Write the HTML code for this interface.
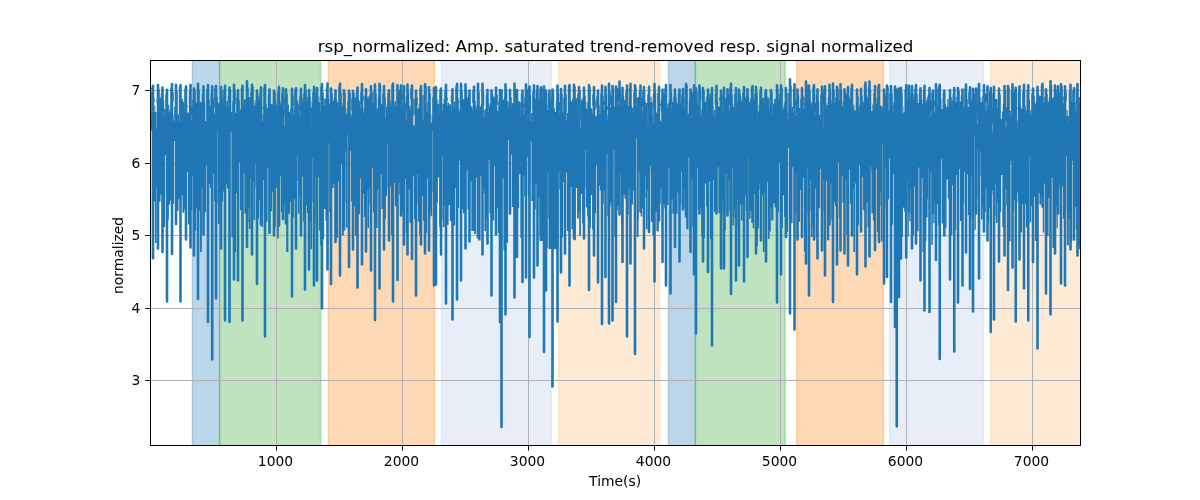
<!DOCTYPE html>
<html lang="en">
<head>
<meta charset="utf-8">
<title>rsp_normalized</title>
<style>
html,body{margin:0;padding:0;background:#fff;}
body{width:1200px;height:500px;overflow:hidden;}
svg{display:block;will-change:transform;}
text{font-family:"DejaVu Sans","Liberation Sans",sans-serif;fill:#000;}
</style>
</head>
<body>
<svg width="1200" height="500" viewBox="0 0 1200 500">
<rect x="0" y="0" width="1200" height="500" fill="#ffffff"/>
<defs><clipPath id="ax"><rect x="150.5" y="60.5" width="930" height="385"/></clipPath></defs>
<g clip-path="url(#ax)">
<rect x="192.4" y="50" width="27.2" height="410" fill="#1f77b4" fill-opacity="0.3" stroke="#1f77b4" stroke-opacity="0.3" stroke-width="1.39"/>
<rect x="219.6" y="50" width="101" height="410" fill="#2ca02c" fill-opacity="0.3" stroke="#2ca02c" stroke-opacity="0.3" stroke-width="1.39"/>
<rect x="328.4" y="50" width="106.1" height="410" fill="#ff7f0e" fill-opacity="0.3" stroke="#ff7f0e" stroke-opacity="0.3" stroke-width="1.39"/>
<rect x="441.5" y="50" width="109.9" height="410" fill="#aec7e8" fill-opacity="0.3" stroke="#aec7e8" stroke-opacity="0.3" stroke-width="1.39"/>
<rect x="558.6" y="50" width="100.8" height="410" fill="#ffbb78" fill-opacity="0.3" stroke="#ffbb78" stroke-opacity="0.3" stroke-width="1.39"/>
<rect x="668.5" y="50" width="26.9" height="410" fill="#1f77b4" fill-opacity="0.3" stroke="#1f77b4" stroke-opacity="0.3" stroke-width="1.39"/>
<rect x="695.4" y="50" width="89.8" height="410" fill="#2ca02c" fill-opacity="0.3" stroke="#2ca02c" stroke-opacity="0.3" stroke-width="1.39"/>
<rect x="796.6" y="50" width="86.9" height="410" fill="#ff7f0e" fill-opacity="0.3" stroke="#ff7f0e" stroke-opacity="0.3" stroke-width="1.39"/>
<rect x="889.6" y="50" width="93.8" height="410" fill="#aec7e8" fill-opacity="0.3" stroke="#aec7e8" stroke-opacity="0.3" stroke-width="1.39"/>
<rect x="990.6" y="50" width="91.4" height="410" fill="#ffbb78" fill-opacity="0.3" stroke="#ffbb78" stroke-opacity="0.3" stroke-width="1.39"/>
</g>
<g fill="#b0b0b0">
<rect x="276" y="61" width="1" height="384"/>
<rect x="402" y="61" width="1" height="384"/>
<rect x="528" y="61" width="1" height="384"/>
<rect x="654" y="61" width="1" height="384"/>
<rect x="780" y="61" width="1" height="384"/>
<rect x="906" y="61" width="1" height="384"/>
<rect x="1032" y="61" width="1" height="384"/>
<rect x="151" y="90" width="929" height="1"/>
<rect x="151" y="163" width="929" height="1"/>
<rect x="151" y="235" width="929" height="1"/>
<rect x="151" y="308" width="929" height="1"/>
<rect x="151" y="380" width="929" height="1"/>
</g>
<g clip-path="url(#ax)" fill="none" stroke="#1f77b4" stroke-linecap="butt">
<path d="M149.92 112.57h1.66v7.9h-1.66zM148.7 119.47h4.1v11.25h-4.1zM148.7 130.21h2.4v82.19h-2.4zM154.42 105.46h0.96v7.6h-0.96zM153.2 112.06h3.4v89.31h-3.4zM154.9 200.87h1.7v42.12h-1.7zM155.62 120.81h0.96v8.85h-0.96zM154.4 128.65h3.4v58.69h-3.4zM154.4 186.85h1.7v4.55h-1.7zM159.42 97.58h1.66v8.17h-1.66zM158.2 104.74h4.1v89.72h-4.1zM158.2 193.96h2.4v7.73h-2.4zM163.92 108.99h1.66v7.96h-1.66zM162.7 115.95h4.1v39.23h-4.1zM162.7 154.68h2.4v72.62h-2.4zM168.42 104.56h0.96v8.38h-0.96zM167.2 111.95h3.4v70.25h-3.4zM167.2 181.7h1.7v37.95h-1.7zM169.62 109.86h0.96v4.68h-0.96zM168.4 113.55h3.4v87.16h-3.4zM168.4 200.21h1.7v4.5h-1.7zM173.42 115.22h1.16v6.21h-1.16zM172.2 120.43h3.6v20.46h-3.6zM172.2 140.39h1.9v63.57h-1.9zM177.42 114.2h1.66v8.59h-1.66zM176.2 121.79h4.1v77.42h-4.1zM176.2 198.71h2.4v12.16h-2.4zM181.92 98.75h1.21v3.91h-1.21zM180.7 101.66h3.65v93.65h-3.65zM182.4 194.81h1.95v17.92h-1.95zM183.37 105.06h1.21v7.04h-1.21zM182.15 111.1h3.65v69.59h-3.65zM183.85 180.19h1.95v29.38h-1.95zM187.42 112.52h1.66v1.12h-1.66zM186.2 112.65h4.1v59.46h-4.1zM187.9 171.6h2.4v52.89h-2.4zM191.92 114.55h0.66v7.17h-0.66zM190.7 120.72h3.1v55.29h-3.1zM190.7 175.51h1.55v34.41h-1.55zM195.42 102.11h1.16v2.26h-1.16zM194.2 103.37h3.6v104.9h-3.6zM194.2 207.77h1.9v22.71h-1.9zM199.42 101.48h1.21v2.18h-1.21zM198.2 102.66h3.65v108.18h-3.65zM199.9 210.34h1.95v41.66h-1.95zM200.87 102.59h1.21v5.43h-1.21zM199.65 107.02h3.65v80.07h-3.65zM199.65 186.59h1.95v4.5h-1.95zM204.92 120.93h1.66v5.69h-1.66zM203.7 125.62h4.1v39.82h-4.1zM203.7 164.94h2.4v47.2h-2.4zM209.42 106.19h1.36v1.5h-1.36zM208.2 106.69h3.8v77.03h-3.8zM209.9 183.21h2.1v4.79h-2.1zM213.62 112.82h0.96v2.51h-0.96zM212.4 114.33h3.4v59.71h-3.4zM214.1 173.54h1.7v27.67h-1.7zM217.42 102.89h0.96v4.22h-0.96zM216.2 106.11h3.4v25.45h-3.4zM217.9 131.06h1.7v92.87h-1.7zM218.62 103.11h0.96v2.25h-0.96zM217.4 104.36h3.4v88.71h-3.4zM217.4 192.57h1.7v10.7h-1.7zM222.42 97.79h1.16v7.97h-1.16zM221.2 104.75h3.6v86.82h-3.6zM221.2 191.08h1.9v10.37h-1.9zM226.42 100.97h1.66v7.14h-1.66zM225.2 107.11h4.1v77.45h-4.1zM226.9 184.06h2.4v4.5h-2.4zM230.92 112.03h1.66v8.96h-1.66zM229.7 119.99h4.1v11.23h-4.1zM231.4 130.72h2.4v106.57h-2.4zM235.42 112.54h1.16v1.51h-1.16zM234.2 113.06h3.6v80.05h-3.6zM234.2 192.61h1.9v59.39h-1.9zM239.42 109.42h1.66v3.55h-1.66zM238.2 111.97h4.1v50.26h-4.1zM239.9 161.73h2.4v48.55h-2.4zM243.92 99.47h1.66v6.77h-1.66zM242.7 105.24h4.1v67.85h-4.1zM244.4 172.59h2.4v40.85h-2.4zM248.42 97.13h0.96v1.22h-0.96zM247.2 97.35h3.4v110.85h-3.4zM248.9 207.7h1.7v21.26h-1.7zM249.62 97.06h0.96v6.42h-0.96zM248.4 102.47h3.4v76.57h-3.4zM248.4 178.54h1.7v43.56h-1.7zM253.42 104.94h0.96v4.12h-0.96zM252.2 108.06h3.4v74.56h-3.4zM253.9 182.12h1.7v5.88h-1.7zM254.62 100.53h0.96v6.74h-0.96zM253.4 106.27h3.4v56.2h-3.4zM253.4 161.97h1.7v57.98h-1.7zM258.42 97.48h1.16v3.98h-1.16zM257.2 100.46h3.6v99.74h-3.6zM257.2 199.71h1.9v19.15h-1.9zM262.42 113.59h1.16v8.78h-1.16zM261.2 121.37h3.6v58.79h-3.6zM261.2 179.66h1.9v47.21h-1.9zM266.42 107.94h1.66v2.77h-1.66zM265.2 109.71h4.1v57.96h-4.1zM265.2 167.17h2.4v54.64h-2.4zM270.92 104.34h1.66v1.2h-1.66zM269.7 104.54h4.1v87.29h-4.1zM269.7 191.34h2.4v19.83h-2.4zM275.42 100.95h0.96v4.65h-0.96zM274.2 104.6h3.4v83.07h-3.4zM274.2 187.17h1.7v39.37h-1.7zM276.62 107.99h0.96v7.68h-0.96zM275.4 114.67h3.4v55.93h-3.4zM277.1 170.1h1.7v68.04h-1.7zM280.42 104.21h1.16v2.91h-1.16zM279.2 106.12h3.6v70.07h-3.6zM280.9 175.69h1.9v36.61h-1.9zM284.42 125.9h0.16v1.13h-0.16zM283.2 126.03h2.6v76.9h-2.6zM283.2 202.43h1.3v7.33h-1.3zM287.42 104.42h1.46v8.55h-1.46zM286.2 111.97h3.9v66.49h-3.9zM286.2 177.96h2.2v74.04h-2.2zM289.12 113.33h1.46v2.44h-1.46zM287.9 114.77h3.9v86.44h-3.9zM287.9 200.71h2.2v12.92h-2.2zM293.42 107.41h1.16v8.11h-1.16zM292.2 114.53h3.6v84.82h-3.6zM292.2 198.85h1.9v18.61h-1.9zM297.42 99.91h0.96v5.66h-0.96zM296.2 104.58h3.4v51.07h-3.4zM297.9 155.15h1.7v58.67h-1.7zM298.62 111.98h0.96v5.15h-0.96zM297.4 116.13h3.4v65.21h-3.4zM299.1 180.84h1.7v13.71h-1.7zM302.42 97.72h1.16v6.32h-1.16zM301.2 103.04h3.6v73.63h-3.6zM302.9 176.17h1.9v45.48h-1.9zM306.42 96.7h1.16v5.6h-1.16zM305.2 101.3h3.6v104.03h-3.6zM306.9 204.83h1.9v8.17h-1.9zM310.42 120.35h0.96v8.3h-0.96zM309.2 127.65h3.4v73.97h-3.4zM309.2 201.12h1.7v20.82h-1.7zM311.62 101.54h0.96v6.85h-0.96zM310.4 107.39h3.4v50.77h-3.4zM310.4 157.66h1.7v91.57h-1.7zM315.42 96.39h0.16v1.82h-0.16zM314.2 97.21h2.6v79.56h-2.6zM314.2 176.27h1.3v46.29h-1.3zM318.42 96.37h0.96v6.91h-0.96zM317.2 102.28h3.4v75.01h-3.4zM318.9 176.79h1.7v53.6h-1.7zM319.62 105.94h0.96v6.74h-0.96zM318.4 111.67h3.4v35.6h-3.4zM320.1 146.78h1.7v98.39h-1.7zM323.42 98.09h1.21v8.08h-1.21zM322.2 105.17h3.65v85.29h-3.65zM322.2 189.96h1.95v49.28h-1.95zM324.87 98.8h1.21v7.61h-1.21zM323.65 105.41h3.65v103.66h-3.65zM325.35 208.57h1.95v12.24h-1.95zM328.92 107.34h0.66v1.29h-0.66zM327.7 107.63h3.1v35.08h-3.1zM329.25 142.21h1.55v69.8h-1.55zM332.42 100.57h1.66v7.44h-1.66zM331.2 107h4.1v77h-4.1zM331.2 183.5h2.4v4.5h-2.4zM336.92 102.17h1.66v6.44h-1.66zM335.7 107.61h4.1v74h-4.1zM335.7 181.11h2.4v56.54h-2.4zM341.42 102.92h1.16v5.04h-1.16zM340.2 106.96h3.6v56.98h-3.6zM341.9 163.44h1.9v72.05h-1.9zM345.42 108.03h0.96v8.07h-0.96zM344.2 115.11h3.4v37.35h-3.4zM345.9 151.96h1.7v75.78h-1.7zM346.62 113.44h0.96v1.29h-0.96zM345.4 113.73h3.4v16.75h-3.4zM345.4 129.98h1.7v72.2h-1.7zM350.42 114.07h1.16v3.44h-1.16zM349.2 116.51h3.6v34.29h-3.6zM350.9 150.3h1.9v51.09h-1.9zM354.42 97.61h1.66v5.09h-1.66zM353.2 101.7h4.1v104.91h-4.1zM354.9 206.1h2.4v29.59h-2.4zM358.92 101.21h1.66v6.92h-1.66zM357.7 107.13h4.1v71.37h-4.1zM357.7 178h2.4v36.3h-2.4zM363.42 108.36h1.16v5.38h-1.16zM362.2 112.74h3.6v81.06h-3.6zM363.9 193.3h1.9v23.59h-1.9zM367.42 96.59h0.96v2.51h-0.96zM366.2 98.1h3.4v92.56h-3.4zM367.9 190.16h1.7v14.68h-1.7zM368.62 96.23h0.96v5.45h-0.96zM367.4 100.68h3.4v87.42h-3.4zM367.4 187.6h1.7v40.56h-1.7zM372.42 101.61h1.16v2.27h-1.16zM371.2 102.88h3.6v65.26h-3.6zM372.9 167.64h1.9v44.91h-1.9zM376.42 108.5h1.66v7.1h-1.66zM375.2 114.6h4.1v74.88h-4.1zM375.2 188.98h2.4v39.1h-2.4zM380.92 103.92h1.66v2.12h-1.66zM379.7 105.04h4.1v69.48h-4.1zM381.4 174.02h2.4v34.88h-2.4zM385.42 111.6h0.96v7.08h-0.96zM384.2 117.68h3.4v69.66h-3.4zM384.2 186.84h1.7v32.42h-1.7zM386.62 103.85h0.96v4.28h-0.96zM385.4 107.13h3.4v36.78h-3.4zM385.4 143.41h1.7v52.91h-1.7zM390.42 103.94h1.16v4.04h-1.16zM389.2 106.98h3.6v79.28h-3.6zM390.9 185.76h1.9v49.54h-1.9zM394.42 101.57h1.66v5.44h-1.66zM393.2 106.01h4.1v77.06h-4.1zM394.9 182.57h2.4v23.72h-2.4zM398.92 103.23h0.66v4.49h-0.66zM397.7 106.72h3.1v76h-3.1zM399.25 182.22h1.55v12.47h-1.55zM402.42 102.15h0.16v7.71h-0.16zM401.2 108.86h2.6v101.2h-2.6zM402.5 209.56h1.3v5.23h-1.3zM405.42 112.93h0.66v8.17h-0.66zM404.2 120.1h3.1v58.99h-3.1zM405.75 178.59h1.55v53.81h-1.55zM408.92 106.23h1.66v5.14h-1.66zM407.7 110.37h4.1v78.94h-4.1zM409.4 188.81h2.4v34.04h-2.4zM413.42 125.14h1.16v1.55h-1.16zM412.2 125.69h3.6v50.09h-3.6zM413.9 175.28h1.9v43.65h-1.9zM417.42 108.32h0.96v2.23h-0.96zM416.2 109.56h3.4v64.29h-3.4zM417.9 173.35h1.7v48.28h-1.7zM418.62 104.36h0.96v5.24h-0.96zM417.4 108.6h3.4v94.74h-3.4zM419.1 202.85h1.7v31.91h-1.7zM422.42 119.66h1.16v2.4h-1.16zM421.2 121.06h3.6v74.76h-3.6zM422.9 195.33h1.9v25.34h-1.9zM426.42 111.59h1.16v2.25h-1.16zM425.2 112.84h3.6v65.78h-3.6zM425.2 178.13h1.9v54.84h-1.9zM430.42 123.47h0.96v1.85h-0.96zM429.2 124.33h3.4v67.46h-3.4zM429.2 191.28h1.7v19.58h-1.7zM431.62 115.04h0.96v8.34h-0.96zM430.4 122.38h3.4v8.16h-3.4zM430.4 130.04h1.7v86.3h-1.7zM437.42 99.74h0.96v5.43h-0.96zM436.2 104.16h3.4v73.34h-3.4zM436.2 177h1.7v25.54h-1.7zM438.62 106.91h0.96v7.08h-0.96zM437.4 112.99h3.4v22.98h-3.4zM439.1 135.47h1.7v91.86h-1.7zM442.42 111.64h0.96v7.45h-0.96zM441.2 118.09h3.4v38.88h-3.4zM442.9 156.47h1.7v70.59h-1.7zM443.62 98.73h0.96v6.03h-0.96zM442.4 103.76h3.4v101.62h-3.4zM442.4 204.89h1.7v15.49h-1.7zM447.42 102.63h1.71v4.09h-1.71zM446.2 105.71h4.15v61.86h-4.15zM446.2 167.07h2.45v57.76h-2.45zM449.37 104.35h1.71v8.45h-1.71zM448.15 111.8h4.15v93.37h-4.15zM449.85 204.67h2.45v16.35h-2.45zM453.92 101.77h1.66v8.68h-1.66zM452.7 109.45h4.1v78.84h-4.1zM452.7 187.79h2.4v37.71h-2.4zM458.42 108.87h1.16v4.19h-1.16zM457.2 112.06h3.6v48.33h-3.6zM457.2 159.89h1.9v47.77h-1.9zM462.42 99.3h1.66v2.49h-1.66zM461.2 100.79h4.1v108.34h-4.1zM462.9 208.63h2.4v4.5h-2.4zM466.92 98.18h1.16v1.52h-1.16zM465.7 98.71h3.6v72.09h-3.6zM467.4 170.29h1.9v39.24h-1.9zM470.92 106.52h1.66v4.74h-1.66zM469.7 110.26h4.1v70.93h-4.1zM471.4 180.69h2.4v50.35h-2.4zM475.42 108.62h1.16v1.74h-1.16zM474.2 109.36h3.6v68.31h-3.6zM474.2 177.17h1.9v56.91h-1.9zM479.42 106.54h1.66v7.36h-1.66zM478.2 112.9h4.1v63.38h-4.1zM478.2 175.79h2.4v64.69h-2.4zM483.92 109.73h0.96v8.61h-0.96zM482.7 117.33h3.4v71.39h-3.4zM484.4 188.23h1.7v42.67h-1.7zM485.12 108.83h0.96v8.98h-0.96zM483.9 116.81h3.4v76.2h-3.4zM485.6 192.51h1.7v25.84h-1.7zM488.92 106.16h1.16v7.01h-1.16zM487.7 112.16h3.6v47.65h-3.6zM489.4 159.32h1.9v53.93h-1.9zM492.92 96.55h1.66v2.16h-1.66zM491.7 97.71h4.1v68h-4.1zM491.7 165.21h2.4v55.3h-2.4zM497.42 110.75h1.16v1.54h-1.16zM496.2 111.29h3.6v96.66h-3.6zM497.9 207.45h1.9v25.49h-1.9zM502.92 99.66h1.16v1.7h-1.16zM501.7 100.37h3.6v78.2h-3.6zM503.4 178.06h1.9v72.2h-1.9zM506.92 101.36h1.66v8.06h-1.66zM505.7 108.43h4.1v31.25h-4.1zM505.7 139.18h2.4v103.6h-2.4zM511.42 102.97h1.66v6.53h-1.66zM510.2 108.49h4.1v46.14h-4.1zM511.9 154.13h2.4v52.84h-2.4zM518.42 100.72h1.21v2.45h-1.21zM517.2 102.17h3.65v68.24h-3.65zM517.2 169.92h1.95v38.45h-1.95zM519.87 115.6h1.21v2.3h-1.21zM518.65 116.9h3.65v57.41h-3.65zM520.35 173.81h1.95v64.11h-1.95zM523.92 110.03h0.66v5.52h-0.66zM522.7 114.54h3.1v61.16h-3.1zM524.25 175.2h1.55v21.24h-1.55zM527.42 113.59h0.66v5.6h-0.66zM526.2 118.19h3.1v38.54h-3.1zM527.75 156.23h1.55v38.8h-1.55zM530.92 113.12h1.66v8.79h-1.66zM529.7 120.91h4.1v20.24h-4.1zM531.4 140.65h2.4v60.44h-2.4zM535.42 110.24h0.66v6.56h-0.66zM534.2 115.8h3.1v67.7h-3.1zM534.2 183h1.55v26.2h-1.55zM538.92 101.34h0.66v8.44h-0.66zM537.7 108.78h3.1v88.72h-3.1zM539.25 197.01h1.55v38.86h-1.55zM542.42 105.66h0.16v2.65h-0.16zM541.2 107.31h2.6v89.32h-2.6zM541.2 196.14h1.3v19.65h-1.3zM547.42 105.3h0.66v5.47h-0.66zM546.2 109.77h3.1v63.43h-3.1zM546.2 172.7h1.55v75.06h-1.55zM550.92 106.33h0.16v1.48h-0.16zM549.7 106.81h2.6v75.01h-2.6zM549.7 181.32h1.3v31.41h-1.3zM553.92 108.09h0.96v4.86h-0.96zM552.7 111.96h3.4v42.25h-3.4zM552.7 153.7h1.7v60.54h-1.7zM555.12 113.78h0.96v3.39h-0.96zM553.9 116.18h3.4v33.54h-3.4zM555.6 149.21h1.7v55.84h-1.7zM558.92 107.96h0.66v6.42h-0.66zM557.7 113.37h3.1v58.9h-3.1zM559.25 171.78h1.55v17.44h-1.55zM562.42 111.79h1.16v3.31h-1.16zM561.2 114.11h3.6v67.84h-3.6zM561.2 181.44h1.9v55.84h-1.9zM566.42 113.02h1.66v8.7h-1.66zM565.2 120.72h4.1v51.86h-4.1zM566.9 172.08h2.4v58.82h-2.4zM570.92 101.5h1.66v1.36h-1.66zM569.7 101.87h4.1v85.15h-4.1zM571.4 186.52h2.4v42.74h-2.4zM575.42 97.6h0.96v1.87h-0.96zM574.2 98.47h3.4v89.51h-3.4zM574.2 187.48h1.7v52.69h-1.7zM576.62 110.89h0.96v3.87h-0.96zM575.4 113.77h3.4v55.51h-3.4zM577.1 168.78h1.7v49.83h-1.7zM580.42 126.21h0.96v2.16h-0.96zM579.2 127.37h3.4v54.92h-3.4zM579.2 181.79h1.7v54.06h-1.7zM581.62 97.94h0.96v3.48h-0.96zM580.4 100.42h3.4v93.57h-3.4zM582.1 193.49h1.7v29.89h-1.7zM585.42 102.08h0.96v7.65h-0.96zM584.2 108.73h3.4v41.11h-3.4zM585.9 149.34h1.7v58h-1.7zM586.62 113.2h0.96v4.96h-0.96zM585.4 117.15h3.4v71.32h-3.4zM587.1 187.98h1.7v28.47h-1.7zM590.42 107.45h0.96v2.11h-0.96zM589.2 108.56h3.4v86.37h-3.4zM589.2 194.43h1.7v33.34h-1.7zM591.62 112.16h0.96v2.75h-0.96zM590.4 113.91h3.4v37.47h-3.4zM592.1 150.88h1.7v78.51h-1.7zM595.42 115.83h1.16v1.5h-1.16zM594.2 116.33h3.6v49.08h-3.6zM594.2 164.91h1.9v48.39h-1.9zM599.42 113.18h1.16v3.37h-1.16zM598.2 115.54h3.6v70.29h-3.6zM599.9 185.33h1.9v5.07h-1.9zM603.42 106.78h0.66v4.43h-0.66zM602.2 110.21h3.1v79.92h-3.1zM602.2 189.63h1.55v13.93h-1.55zM606.92 114.51h0.66v5.96h-0.66zM605.7 119.47h3.1v34.2h-3.1zM607.25 153.18h1.55v63.03h-1.55zM610.42 106.74h0.66v2.09h-0.66zM609.2 107.83h3.1v94.3h-3.1zM609.2 201.63h1.55v4.5h-1.55zM613.92 112.11h0.66v6.92h-0.66zM612.7 118.03h3.1v32.24h-3.1zM614.25 149.77h1.55v87.35h-1.55zM617.42 102.84h0.66v2.82h-0.66zM616.2 104.66h3.1v101.46h-3.1zM616.2 205.61h1.55v4.5h-1.55zM620.92 100.2h0.16v6.2h-0.16zM619.7 105.4h2.6v68.41h-2.6zM621 173.31h1.3v51.89h-1.3zM623.92 100.31h1.66v6.88h-1.66zM622.7 106.2h4.1v88.4h-4.1zM624.4 194.1h2.4v4.5h-2.4zM628.42 108.91h0.66v2.07h-0.66zM627.2 109.98h3.1v78.66h-3.1zM627.2 188.15h1.55v26.92h-1.55zM631.92 107.91h1.66v6.49h-1.66zM630.7 113.39h4.1v77.19h-4.1zM630.7 190.08h2.4v14.34h-2.4zM636.42 106.7h1.21v2.09h-1.21zM635.2 107.79h3.65v30.5h-3.65zM636.9 137.79h1.95v81.63h-1.95zM637.87 96.79h1.21v1.96h-1.21zM636.65 97.76h3.65v73.62h-3.65zM636.65 170.87h1.95v66.13h-1.95zM641.92 107.8h0.66v5.5h-0.66zM640.7 112.31h3.1v95.82h-3.1zM640.7 207.62h1.55v8.8h-1.55zM645.42 102.97h0.96v1.09h-0.96zM644.2 103.07h3.4v73.95h-3.4zM645.9 176.51h1.7v52.65h-1.7zM646.62 124.06h0.96v1.8h-0.96zM645.4 124.85h3.4v65.94h-3.4zM645.4 190.3h1.7v7.62h-1.7zM650.42 96.65h1.21v6.55h-1.21zM649.2 102.2h3.65v63.8h-3.65zM650.9 165.5h1.95v56.17h-1.95zM651.87 116.66h1.21v7.41h-1.21zM650.65 123.06h3.65v50.65h-3.65zM652.35 173.21h1.95v61.81h-1.95zM655.92 112.6h1.66v3h-1.66zM654.7 114.6h4.1v97.27h-4.1zM656.4 211.37h2.4v19.93h-2.4zM660.42 120.14h0.66v2.21h-0.66zM659.2 121.34h3.1v67.24h-3.1zM659.2 188.08h1.55v15.79h-1.55zM663.92 97.42h0.66v7.74h-0.66zM662.7 104.16h3.1v100.36h-3.1zM664.25 204.02h1.55v4.5h-1.55zM667.42 103.47h1.66v5.89h-1.66zM666.2 108.36h4.1v60.2h-4.1zM666.2 168.07h2.4v36.91h-2.4zM671.92 101.91h1.66v7.55h-1.66zM670.7 108.47h4.1v90.71h-4.1zM672.4 198.68h2.4v14.99h-2.4zM676.42 103.37h1.66v1.05h-1.66zM675.2 103.42h4.1v88.8h-4.1zM675.2 191.72h2.4v21.99h-2.4zM680.92 100.73h0.66v6.82h-0.66zM679.7 106.54h3.1v65.21h-3.1zM679.7 171.25h1.55v33.32h-1.55zM684.42 105.5h0.16v5.55h-0.16zM683.2 110.05h2.6v79.77h-2.6zM683.2 189.32h1.3v18.32h-1.3zM687.42 113.39h1.66v4.41h-1.66zM686.2 116.8h4.1v40.92h-4.1zM686.2 157.22h2.4v72.04h-2.4zM691.92 112.58h0.66v6.45h-0.66zM690.7 118.03h3.1v61.25h-3.1zM692.25 178.79h1.55v47.85h-1.55zM697.42 105.67h0.66v4.25h-0.66zM696.2 108.92h3.1v58.92h-3.1zM697.75 167.34h1.55v42.46h-1.55zM700.92 112.79h0.66v5.03h-0.66zM699.7 116.82h3.1v90.21h-3.1zM701.25 206.53h1.55v29.79h-1.55zM704.42 98.87h0.96v4.24h-0.96zM703.2 102.11h3.4v81.51h-3.4zM703.2 183.12h1.7v55.02h-1.7zM705.62 107.15h0.96v6.76h-0.96zM704.4 112.91h3.4v63.94h-3.4zM706.1 176.35h1.7v30.25h-1.7zM709.42 97.4h1.16v3.43h-1.16zM708.2 99.83h3.6v81.78h-3.6zM709.9 181.11h1.9v57.6h-1.9zM713.42 109.7h1.66v7.71h-1.66zM712.2 116.41h4.1v63.59h-4.1zM713.9 179.51h2.4v32.44h-2.4zM717.92 106.38h1.66v1.16h-1.66zM716.7 106.54h4.1v60.7h-4.1zM718.4 166.74h2.4v46.53h-2.4zM722.42 112.42h0.16v2.57h-0.16zM721.2 113.99h2.6v85.5h-2.6zM721.2 198.99h1.3v14.14h-1.3zM725.42 97.51h0.66v2.09h-0.66zM724.2 98.6h3.1v75.24h-3.1zM724.2 173.34h1.55v57.38h-1.55zM728.92 108.16h0.66v2.7h-0.66zM727.7 109.86h3.1v70.5h-3.1zM729.25 179.86h1.55v31.48h-1.55zM732.42 103.7h0.96v4.31h-0.96zM731.2 107.02h3.4v60.12h-3.4zM732.9 166.64h1.7v51.66h-1.7zM733.62 110.74h0.96v4.2h-0.96zM732.4 113.94h3.4v95.25h-3.4zM732.4 208.69h1.7v16.7h-1.7zM737.42 113.58h0.16v5.91h-0.16zM736.2 118.49h2.6v80.54h-2.6zM736.2 198.53h1.3v27.54h-1.3zM740.42 96.35h0.96v5.24h-0.96zM739.2 100.59h3.4v103.92h-3.4zM740.9 204.01h1.7v16.59h-1.7zM741.62 104.04h0.96v6.26h-0.96zM740.4 109.3h3.4v83.97h-3.4zM742.1 192.77h1.7v12.01h-1.7zM745.42 111.46h0.66v1.25h-0.66zM744.2 111.71h3.1v83.71h-3.1zM745.75 194.92h1.55v16h-1.55zM748.92 106.63h0.96v3.02h-0.96zM747.7 108.65h3.4v49.67h-3.4zM749.4 157.82h1.7v51.38h-1.7zM750.12 98.86h0.96v4.21h-0.96zM748.9 102.07h3.4v108.95h-3.4zM748.9 210.52h1.7v8.26h-1.7zM753.92 98.32h0.66v3.07h-0.66zM752.7 100.4h3.1v93.09h-3.1zM752.7 192.99h1.55v35.28h-1.55zM757.42 112.55h0.96v7.23h-0.96zM756.2 118.78h3.4v71.06h-3.4zM756.2 189.34h1.7v56.63h-1.7zM758.62 104.39h0.96v8.21h-0.96zM757.4 111.6h3.4v71.69h-3.4zM757.4 182.78h1.7v45.81h-1.7zM762.42 98.05h0.96v1.52h-0.96zM761.2 98.57h3.4v96.76h-3.4zM762.9 194.84h1.7v57.16h-1.7zM763.62 97.14h0.96v8.56h-0.96zM762.4 104.7h3.4v83.9h-3.4zM764.1 188.1h1.7v4.5h-1.7zM767.42 96.39h0.96v2.93h-0.96zM766.2 98.33h3.4v83.32h-3.4zM767.9 181.15h1.7v57.89h-1.7zM768.62 108.21h0.96v5.56h-0.96zM767.4 112.77h3.4v59.6h-3.4zM769.1 171.87h1.7v59.61h-1.7zM772.42 114.13h1.46v3.4h-1.46zM771.2 116.53h3.9v43.99h-3.9zM771.2 160.02h2.2v60.6h-2.2zM774.12 99.07h1.46v5.63h-1.46zM772.9 103.7h3.9v99.82h-3.9zM774.6 203.02h2.2v4.5h-2.2zM778.42 96.88h1.16v4.51h-1.16zM777.2 100.39h3.6v62.38h-3.6zM777.2 162.27h1.9v49.25h-1.9zM782.42 111.3h0.96v3.42h-0.96zM781.2 113.72h3.4v74.91h-3.4zM781.2 188.12h1.7v39.73h-1.7zM783.62 104.83h0.96v4.31h-0.96zM782.4 108.14h3.4v87.04h-3.4zM784.1 194.68h1.7v22.13h-1.7zM787.42 112.76h1.16v7.34h-1.16zM786.2 119.09h3.6v28.57h-3.6zM786.2 147.17h1.9v84.57h-1.9zM791.42 106.92h1.66v6.83h-1.66zM790.2 112.75h4.1v54.52h-4.1zM790.2 166.77h2.4v56.48h-2.4zM795.92 112.69h0.16v4.43h-0.16zM794.7 116.12h2.6v57.29h-2.6zM794.7 172.91h1.3v40.01h-1.3zM798.92 108.03h1.66v8.95h-1.66zM797.7 115.98h4.1v73.93h-4.1zM797.7 189.41h2.4v32.24h-2.4zM803.42 102.64h1.16v6.85h-1.16zM802.2 108.49h3.6v69.34h-3.6zM803.9 177.33h1.9v74.11h-1.9zM807.42 101.11h0.16v2.57h-0.16zM806.2 102.68h2.6v64.57h-2.6zM807.5 166.75h1.3v47.95h-1.3zM810.42 101.08h0.96v3.26h-0.96zM809.2 103.33h3.4v77.21h-3.4zM810.9 180.05h1.7v56.89h-1.7zM811.62 103.59h0.96v4.35h-0.96zM810.4 106.94h3.4v103.79h-3.4zM812.1 210.23h1.7v15.02h-1.7zM815.42 112.75h0.66v2.91h-0.66zM814.2 114.66h3.1v73.88h-3.1zM815.75 188.05h1.55v50.03h-1.55zM818.92 114.83h1.66v6.31h-1.66zM817.7 120.14h4.1v48.94h-4.1zM817.7 168.58h2.4v39.7h-2.4zM823.42 125.41h0.16v5.39h-0.16zM822.2 129.8h2.6v50.03h-2.6zM822.2 179.33h1.3v31.93h-1.3zM826.42 105h1.66v4.76h-1.66zM825.2 108.76h4.1v72.33h-4.1zM826.9 180.59h2.4v59.71h-2.4zM830.92 100.45h0.66v6.7h-0.66zM829.7 106.15h3.1v77.34h-3.1zM831.25 183h1.55v37.39h-1.55zM834.42 97.37h1.16v6.31h-1.16zM833.2 102.68h3.6v99.69h-3.6zM834.9 201.87h1.9v4.5h-1.9zM838.42 113.27h0.66v4.81h-0.66zM837.2 117.08h3.1v45.38h-3.1zM838.75 161.96h1.55v55.8h-1.55zM841.92 105.95h1.16v7.51h-1.16zM840.7 112.46h3.6v63.75h-3.6zM842.4 175.72h1.9v27.35h-1.9zM845.92 99.38h0.66v8.28h-0.66zM844.7 106.66h3.1v73.47h-3.1zM846.25 179.63h1.55v54.81h-1.55zM849.42 98.34h1.16v3.01h-1.16zM848.2 100.35h3.6v69.48h-3.6zM849.9 169.33h1.9v34.51h-1.9zM853.42 104.6h0.96v6.56h-0.96zM852.2 110.16h3.4v73.84h-3.4zM852.2 183.5h1.7v4.5h-1.7zM854.62 110.42h0.96v6.44h-0.96zM853.4 115.86h3.4v66.39h-3.4zM853.4 181.75h1.7v70.25h-1.7zM858.42 107.83h1.16v5.45h-1.16zM857.2 112.28h3.6v52.76h-3.6zM857.2 164.54h1.9v60.11h-1.9zM862.42 101.82h1.66v8.34h-1.66zM861.2 109.16h4.1v67.85h-4.1zM862.9 176.51h2.4v33.63h-2.4zM866.92 97.74h1.16v4.39h-1.16zM865.7 101.12h3.6v101.12h-3.6zM867.4 201.74h1.9v25.62h-1.9zM870.92 113.49h1.21v4.01h-1.21zM869.7 116.5h3.65v50.47h-3.65zM871.4 166.46h1.95v46.74h-1.95zM872.37 104.19h1.21v7.8h-1.21zM871.15 110.99h3.65v60.1h-3.65zM872.85 170.59h1.95v49.94h-1.95zM876.42 97.2h1.16v7.88h-1.16zM875.2 104.09h3.6v64.67h-3.6zM876.9 168.26h1.9v63.81h-1.9zM880.42 105.99h0.96v1.2h-0.96zM879.2 106.2h3.4v86.67h-3.4zM880.9 192.36h1.7v49.17h-1.7zM881.62 109.32h0.96v8.96h-0.96zM880.4 117.28h3.4v26.64h-3.4zM880.4 143.42h1.7v62.92h-1.7zM885.42 105.72h0.16v4.21h-0.16zM884.2 108.94h2.6v57.97h-2.6zM885.5 166.41h1.3v42.78h-1.3zM888.42 110.62h1.16v1.94h-1.16zM887.2 111.56h3.6v47.05h-3.6zM887.2 158.11h1.9v41.27h-1.9zM892.42 105.44h1.16v7.59h-1.16zM891.2 112.03h3.6v62.36h-3.6zM891.2 173.89h1.9v50.64h-1.9zM902.42 106.46h1.06v7.75h-1.06zM901.2 113.21h3.5v58.38h-3.5zM901.2 171.09h1.8v66.04h-1.8zM903.72 112.57h1.06v1.05h-1.06zM902.5 112.61h3.5v95.22h-3.5zM904.2 207.34h1.8v4.5h-1.8zM906.4 102.96h2.4v76.09h-2.4zM907.6 178.54h1.2v58.1h-1.2zM910.42 108.94h0.16v4.49h-0.16zM909.2 112.43h2.6v77.93h-2.6zM909.2 189.86h1.3v31.28h-1.3zM913.42 96.99h1.16v3.99h-1.16zM912.2 99.98h3.6v86.84h-3.6zM912.2 186.32h1.9v49.35h-1.9zM917.42 102.95h1.66v5.45h-1.66zM916.2 107.4h4.1v60.01h-4.1zM916.2 166.9h2.4v64.44h-2.4zM921.92 103.77h1.16v3.59h-1.16zM920.7 106.36h3.6v71.5h-3.6zM922.4 177.36h1.9v74.64h-1.9zM925.92 99.81h0.96v4.25h-0.96zM924.7 103.06h3.4v96.15h-3.4zM924.7 198.71h1.7v42.61h-1.7zM927.12 97.1h0.96v6.11h-0.96zM925.9 102.21h3.4v65.09h-3.4zM925.9 166.8h1.7v50.74h-1.7zM930.92 111.47h0.66v6.9h-0.66zM929.7 117.37h3.1v55.34h-3.1zM931.25 172.21h1.55v72.67h-1.55zM934.42 111.24h0.16v2.27h-0.16zM933.2 112.51h2.6v89.04h-2.6zM933.2 201.04h1.3v22.09h-1.3zM937.42 104.85h0.91v2.79h-0.91zM936.2 106.64h3.35v97.54h-3.35zM937.88 203.68h1.67v21.37h-1.67zM941.17 109.03h1.71v1.45h-1.71zM939.95 109.49h4.15v49.78h-4.15zM941.65 158.76h2.45v64.86h-2.45zM945.72 110.41h1.31v6.75h-1.31zM944.5 116.16h3.75v63.39h-3.75zM944.5 179.05h2.05v48.82h-2.05zM947.27 98.89h1.31v8.84h-1.31zM946.05 106.73h3.75v36.57h-3.75zM947.75 142.8h2.05v55.73h-2.05zM951.42 100.24h1.41v6.83h-1.41zM950.2 106.07h3.85v79.13h-3.85zM950.2 184.7h2.15v50.24h-2.15zM955.67 96.74h0.91v6.26h-0.91zM954.45 102h3.35v72.89h-3.35zM954.45 174.39h1.67v55.91h-1.67zM959.42 101.52h1.66v8.44h-1.66zM958.2 108.96h4.1v60.41h-4.1zM959.9 168.87h2.4v52.17h-2.4zM963.92 107.36h0.66v1.71h-0.66zM962.7 108.07h3.1v63.5h-3.1zM962.7 171.07h1.55v32.36h-1.55zM967.42 107h1.16v1.01h-1.16zM966.2 107.01h3.6v67.13h-3.6zM967.9 173.64h1.9v41.31h-1.9zM971.42 96.95h0.16v4.6h-0.16zM970.2 100.55h2.6v76.08h-2.6zM970.2 176.13h1.3v41.54h-1.3zM974.42 98.08h0.16v4.64h-0.16zM973.2 101.72h2.6v33.92h-2.6zM974.5 135.15h1.3v94.57h-1.3zM977.42 122.7h0.16v1.78h-0.16zM976.2 123.48h2.6v26.75h-2.6zM977.5 149.73h1.3v48.85h-1.3zM980.42 97.45h0.96v6.3h-0.96zM979.2 102.75h3.4v49.82h-3.4zM980.9 152.07h1.7v67.53h-1.7zM981.62 101.76h0.96v1.85h-0.96zM980.4 102.62h3.4v73.6h-3.4zM982.1 175.72h1.7v31.19h-1.7zM985.42 106.18h0.66v5.28h-0.66zM984.2 110.47h3.1v78.35h-3.1zM984.2 188.32h1.55v23.89h-1.55zM988.92 101.39h0.41v8.9h-0.41zM987.7 109.29h2.85v98.4h-2.85zM987.7 207.19h1.42v15.61h-1.42zM992.17 129.15h0.41v5.56h-0.41zM990.95 133.71h2.85v56.81h-2.85zM990.95 190.03h1.42v4.5h-1.42zM995.42 98.92h0.96v1.25h-0.96zM994.2 99.17h3.4v84.32h-3.4zM995.9 182.98h1.7v39.95h-1.7zM996.62 106.83h0.96v2.95h-0.96zM995.4 108.77h3.4v92.65h-3.4zM995.4 200.92h1.7v14.66h-1.7zM1000.42 120.06h1.21v1.78h-1.21zM999.2 120.84h3.65v54.26h-3.65zM999.2 174.6h1.95v37.39h-1.95zM1001.87 111.48h1.21v8.37h-1.21zM1000.65 118.85h3.65v46.66h-3.65zM1002.35 165.01h1.95v62.19h-1.95zM1005.92 126.83h0.66v2.18h-0.66zM1004.7 128.01h3.1v61.02h-3.1zM1006.25 188.54h1.55v16.96h-1.55zM1009.42 110.63h1.66v6.67h-1.66zM1008.2 116.3h4.1v44.52h-4.1zM1008.2 160.32h2.4v81.01h-2.4zM1013.92 105.45h0.41v8.26h-0.41zM1012.7 112.71h2.85v87.6h-2.85zM1012.7 199.82h1.42v10.8h-1.42zM1017.17 120.48h0.91v8.77h-0.91zM1015.95 128.26h3.35v64.14h-3.35zM1017.62 191.89h1.67v10.64h-1.67zM1020.92 108.78h1.66v2.08h-1.66zM1019.7 109.86h4.1v94.07h-4.1zM1019.7 203.44h2.4v29.07h-2.4zM1025.42 110.15h1.41v4.48h-1.41zM1024.2 113.64h3.85v90.15h-3.85zM1025.9 203.28h2.15v24.17h-2.15zM1029.67 110.21h0.84v6.24h-0.84zM1028.45 115.45h3.27v41.96h-3.27zM1030.09 156.91h1.64v45.12h-1.64zM1030.74 110.26h0.84v5.49h-0.84zM1029.53 114.76h3.27v91.49h-3.27zM1029.53 205.75h1.64v16.5h-1.64zM1034.42 103.45h1.66v7.35h-1.66zM1033.2 109.8h4.1v87.3h-4.1zM1034.9 196.59h2.4v44.33h-2.4zM1038.92 103.72h0.96v3.72h-0.96zM1037.7 106.44h3.4v86.52h-3.4zM1039.4 192.46h1.7v12.13h-1.7zM1040.12 96.09h0.96v1.13h-0.96zM1038.9 96.22h3.4v73.98h-3.4zM1040.6 169.7h1.7v27.96h-1.7zM1043.92 103.81h0.66v1.66h-0.66zM1042.7 104.47h3.1v79.04h-3.1zM1042.7 183.01h1.55v49.45h-1.55zM1047.42 101.55h1.66v3.17h-1.66zM1046.2 103.72h4.1v94.24h-4.1zM1046.2 197.46h2.4v38.49h-2.4zM1051.92 98.29h1.66v2.47h-1.66zM1050.7 99.77h4.1v77.99h-4.1zM1052.4 177.26h2.4v70.71h-2.4zM1056.42 99.18h0.16v7.53h-0.16zM1055.2 105.71h2.6v100.74h-2.6zM1056.5 205.95h1.3v22.25h-1.3zM1059.42 105.49h0.16v2.52h-0.16zM1058.2 107.01h2.6v76.99h-2.6zM1058.2 183.5h1.3v4.5h-1.3zM1062.42 96.01h1.16v8.56h-1.16zM1061.2 103.57h3.6v82.8h-3.6zM1062.9 185.86h1.9v33.23h-1.9zM1066.42 110h1.21v7.03h-1.21zM1065.2 116.02h3.65v40.35h-3.65zM1066.9 155.87h1.95v89.45h-1.95zM1067.87 124.36h1.21v4.55h-1.21zM1066.65 127.91h3.65v82.11h-3.65zM1068.35 209.52h1.95v9.11h-1.95zM1071.92 113.82h0.66v4.95h-0.66zM1070.7 117.77h3.1v42.87h-3.1zM1070.7 160.13h1.55v81.22h-1.55zM1075.42 106.59h0.66v7.01h-0.66zM1074.2 112.6h3.1v94.28h-3.1zM1075.75 206.38h1.55v22.63h-1.55zM1078.92 96.67h0.96v8.13h-0.96zM1077.7 103.8h3.4v67.99h-3.4zM1077.7 171.29h1.7v73.89h-1.7zM1080.12 114.96h0.96v5.72h-0.96zM1078.9 119.67h3.4v91.49h-3.4zM1078.9 210.66h1.7v38.47h-1.7zM539.5 150h8v91h-8zM548.5 150h10v99h-10z" fill="#1f77b4" stroke="none"/>
<path d="M152.3 87.98V125.87M153.7 99.32V101.02M158.7 89.77V110.51M157.3 101.66V101.07M161.8 93.32V118.63M163.2 110.9V100.42M166.3 95.26V127.69M167.7 106.44V133.46M171.3 88.42V126.48M172.7 92.82V101.1M176.7 92.03V122.21M175.3 107.36V116.8M179.8 87.48V113.61M181.2 100.83V115.86M185.3 89.23V119.74M186.7 106.52V105.9M189.8 92.06V127.8M191.2 106.71V114.31M194.7 90.74V102.87M193.3 100.57V134.25M198.7 90.06V149.64M197.3 104.68V112.8M202.8 94.52V116.48M204.2 103.71V123.67M207.3 89.46V145.67M208.7 100.62V106.65M211.5 93.79V142.93M212.9 98.51V119.6M215.3 88.79V107.16M216.7 97.44V110.13M221.7 90.65V105.58M220.3 103.23V129.71M224.3 90.63V143.29M225.7 108.66V133.39M230.2 89.96V130.98M228.8 96.23V101.5M234.7 90.81V103.32M233.3 101.67V125.9M237.3 98.28V129.93M238.7 100.53V111.12M241.8 88.45V123.38M243.2 109.29V122.98M247.7 88.22V122.89M246.3 100.11V124.85M252.7 87.61V126.24M251.3 93.01V125.46M257.7 96.01V145.23M256.3 104.07V109.59M260.3 93.39V139M261.7 107.23V108.15M264.3 88.23V123.62M265.7 104.53V149.46M268.8 95.81V147.74M270.2 104.12V146.73M274.7 93.01V103.31M273.3 105.97V115.56M278.3 92.02V131.95M279.7 107.45V102.41M282.3 93.34V107.28M283.7 108.62V115.29M286.7 94.29V136.65M285.3 98.4V106.26M292.7 96.13V105.6M291.3 109.71V148.98M295.3 90.12V139.57M296.7 107.59V103.34M300.3 96.44V108.97M301.7 100.69V113.23M305.7 90.65V141.38M304.3 93.82V136.48M309.7 97.56V143.66M308.3 99.86V105.9M313.3 93.13V138.35M314.7 97.27V105.36M316.3 91.97V124.95M317.7 104.57V138.78M321.3 87.17V100.19M322.7 93.4V121.51M326.8 88.35V129.85M328.2 99.34V124.63M331.7 93.79V110.88M330.3 104.61V143.55M334.8 97.88V105.13M336.2 99.94V120.99M339.3 87.07V113.74M340.7 93.54V138.4M344.7 93.09V143.91M343.3 113.57V109.42M349.7 93.32V132.73M348.3 101.76V134.73M353.7 93.87V114.56M352.3 110.05V99.01M356.8 91.89V124.91M358.2 99.92V147.96M361.3 92.69V103.45M362.7 96.14V100.06M365.3 96.62V142.18M366.7 107.7V147.19M371.7 92.99V102.65M370.3 95.01V133.79M374.3 90.67V139.68M375.7 93.57V142.52M380.2 85.62V149.7M378.8 98.22V145.6M383.3 94.27V148.4M384.7 97.89V107.42M388.3 94.06V124M389.7 100.88V116.04M392.3 85.31V124.29M393.7 106.83V124.74M398.2 91.48V126.39M396.8 107.1V148.46M400.3 89.75V141.28M401.7 104.66V131.07M403.3 93.93V98.74M404.7 104.08V143.75M408.2 92.36V132.87M406.8 96.78V110.6M411.3 89.12V98.19M412.7 99.06V115.1M415.3 99.19V114.1M416.7 104.13V98.06M420.3 89.64V138.36M421.7 95.36V140.49M425.7 86.28V113.82M424.3 95.84V128.45M429.7 94.36V135.48M428.3 102.92V112.78M434.7 94.82V140.24M433.3 97.91V125.24M435.3 94.61V128.37M436.7 109.11V133.51M440.3 90.53V131.13M441.7 111.59V117.58M445.3 90.81V133.39M446.7 100.25V98.17M451.8 95.64V101.43M453.2 108.81V111.11M456.3 87.21V131.8M457.7 98.96V141.97M461.7 90.98V130.08M460.3 101.9V102.03M466.2 90.49V104.94M464.8 99.86V123.26M468.8 97.06V113.12M470.2 106.6V122.16M473.3 90.72V102.46M474.7 102.1V113.06M478.7 92.57V118.12M477.3 106.28V146.39M483.2 92.27V104.9M481.8 104.72V124.45M486.8 95.18V143.56M488.2 104V106.27M492.2 94.28V105.32M490.8 103.67V114.44M496.7 95.22V104.24M495.3 110.16V135.08M500.7 92.26V118.29M499.3 111.72V101.97M500.8 93.95V100.68M502.2 108.57V131.02M506.2 89.73V107.87M504.8 98.13V147.72M510.7 98.07V146.92M509.3 106.46V135.42M515.2 89.72V105.21M513.8 105.32V123.25M516.3 95.18V115.87M517.7 102.64V136.43M521.8 94.47V126.98M523.2 104.67V106.7M526.7 90.11V121.56M525.3 97.58V137.48M528.8 88.88V115.78M530.2 95.7V110.43M533.3 92.23V119.46M534.7 99.6V125.26M536.8 91.35V127.86M538.2 99.63V133.71M540.3 89.66V144.63M541.7 101.16V131.58M543.3 89.17V120.11M544.7 106.5V139.82M545.3 95.04V146.2M546.7 111.51V142.48M548.8 93.9V105.91M550.2 113.88V103.66M553.2 91.83V138.4M551.8 97.25V104.53M558.2 94.05V130.58M556.8 101.76V120.75M561.7 94.44V128.31M560.3 102.98V109.63M565.7 94.52V112.49M564.3 98.61V141.65M568.8 87.06V119.41M570.2 103.25V100.88M574.7 87.06V109.85M573.3 99.29V117.25M579.7 91.27V118.61M578.3 94.85V113.19M584.7 96.17V114.21M583.3 108.5V110M589.7 87.46V130.43M588.3 102.46V144.62M593.3 95.32V105.61M594.7 100.97V109.07M597.3 97.31V107.57M598.7 105.54V135.03M601.3 93.92V115.12M602.7 96.36V146.67M606.2 94.51V149.22M604.8 101.72V103.67M609.7 92.32V104.43M608.3 107.06V108.78M613.2 88.33V134.67M611.8 96.85V126.16M616.7 88.6V119.36M615.3 107.38V137.87M618.8 88.97V101.22M620.2 92.46V101.27M623.2 96.29V130.08M621.8 99.78V135.27M626.3 92.46V128.97M627.7 106.3V147.22M629.8 88.86V147.75M631.2 106.79V118.1M635.7 87.85V123.82M634.3 93.06V146.41M639.8 91.57V115.05M641.2 98.43V116.82M643.3 91.65V106.32M644.7 101.43V131.78M648.3 95.51V143.94M649.7 110.46V111.77M655.2 92.59V148.55M653.8 94.44V104.91M658.3 93.73V142.04M659.7 105.13V104.3M663.2 93.96V136.38M661.8 100.53V110.87M665.3 89.16V118.6M666.7 108.76V124.38M671.2 93.71V103.32M669.8 100.37V140.59M674.3 97.48V110.11M675.7 98.15V129.23M678.8 93.86V143.04M680.2 104.44V111.52M682.3 95.34V134.9M683.7 102.47V99.95M686.7 85.86V136.08M685.3 106.21V140.37M691.2 92.48V114.23M689.8 100.44V139.35M693.3 92.72V132.53M694.7 95.62V125.77M696.7 92.81V112.73M695.3 100.86V147.57M700.2 90.28V98.95M698.8 105.65V139.72M703.7 91.3V98.31M702.3 110.3V120.04M708.7 94.42V106.45M707.3 97.43V126.68M711.3 93.86V146.22M712.7 107.64V106.93M715.8 94.13V103.66M717.2 101.5V139.85M720.3 98.15V100.26M721.7 112.9V114.36M723.3 95.93V130.26M724.7 108.79V106.33M728.2 95.24V108.2M726.8 104.5V127.4M730.3 88.04V104.4M731.7 95.31V135.69M735.3 94.44V114.86M736.7 102.01V121.7M739.7 93.57V110.96M738.3 103.63V117.11M743.3 93.15V123.45M744.7 98.58V137.71M746.8 96.56V118.82M748.2 97.96V116.65M751.8 88.06V104.77M753.2 108.53V114.31M756.7 93.01V138.78M755.3 94.86V101.45M760.3 91V149.05M761.7 103.52V147.75M765.3 92.37V116.25M766.7 110.01V106.26M771.7 92.77V124.12M770.3 112.48V108.83M777.7 89.62V108.34M776.3 99.47V131.1M781.7 88.31V138.81M780.3 94.97V125.6M786.7 93.7V128.16M785.3 109.93V103.44M790.7 86.21V117.32M789.3 93.05V117.19M793.8 89.23V107.19M795.2 104.03V100.51M798.2 96.32V136.85M796.8 100.73V113.13M802.7 96V104.87M801.3 99.37V131.96M806.7 85.33V125.2M805.3 97.75V119.49M809.7 91.67V122.69M808.3 95.45V146.7M813.3 87.31V105.52M814.7 103.51V112.03M816.8 95.64V127.24M818.2 102.73V131.57M822.7 90.11V144.98M821.3 95.07V125.64M824.3 94.47V103.46M825.7 103.89V132.15M830.2 92.21V107.08M828.8 97.47V113.61M833.7 90.41V98.33M832.3 104.91V136.75M837.7 89.76V149.82M836.3 98.71V131.49M841.2 90.95V111.83M839.8 100.83V120.67M845.2 93.02V146.29M843.8 111.26V102.44M847.3 94.74V108.54M848.7 97.39V145.58M851.3 89.14V142.3M852.7 107.23V149.05M857.7 97.23V134.28M856.3 111.07V120.74M861.7 96V118.36M860.3 105.84V127.39M864.8 85.07V146.31M866.2 95.84V105.38M868.8 88.13V136.31M870.2 90.31V128.7M874.3 93.92V137.3M875.7 105.15V117.96M878.3 87.13V142.08M879.7 105.88V130.98M884.7 94.57V104.9M883.3 109.9V131.61M887.7 87.39V111.35M886.3 97.77V135.22M891.7 93.76V130.15M890.3 94.3V119.47M895.7 91.6V100.5M894.3 103.37V135.15M897.45 92.44V98.07M896.05 100.48V137.63M899.7 91.04V134.15M898.3 109.58V148.29M901.7 93.53V106.26M900.3 108.53V146.79M905.5 90.21V149.54M906.9 101.76V103.44M909.7 93.73V136.75M908.3 100.24V131.58M912.7 94.14V124.06M911.3 99.9V143.97M915.3 89.23V114.99M916.7 95.28V141.84M919.8 93.25V133.83M921.2 100.12V110.01M923.8 91.1V111.91M925.2 105.62V140.98M928.8 94.73V129.35M930.2 101.25V110.28M932.3 93.36V132.21M933.7 101.34V105.85M936.7 89.2V108.2M935.3 102.36V103.56M939.05 86.68V142.43M940.45 99.57V109.57M943.6 93.39V129.39M945 104.87V136.53M950.7 97.77V132.73M949.3 108.29V143.64M953.55 94.61V131.36M954.95 103.12V114.28M958.7 91.45V118.81M957.3 107.15V106.14M961.8 95.76V119.29M963.2 108.21V146.37M965.3 89.13V123.47M966.7 108.01V99.98M969.3 92.75V103.26M970.7 104.31V126.13M973.7 94.07V119.34M972.3 111.59V108.92M975.3 95.28V129.93M976.7 106.37V111.13M978.3 88.83V119.87M979.7 103.08V116.31M984.7 93.61V125.41M983.3 96.53V139.68M986.8 94.49V101.58M988.2 106.75V108.04M990.05 92.33V131.22M991.45 108.96V140.44M993.3 94.01V122.41M994.7 107.09V109.98M999.7 95.07V123.04M998.3 109.21V139.54M1005.2 91.08V120.28M1003.8 103.92V132.28M1008.7 88.16V141.05M1007.3 108.25V138.77M1011.8 90.69V108.91M1013.2 93.25V113.24M1015.05 90.9V121.5M1016.45 108.16V108.84M1018.8 92.74V144.48M1020.2 106.67V141.62M1023.3 91.71V120.81M1024.7 106.64V126.86M1027.55 90.34V126.97M1028.95 100.77V145.08M1032.3 94.07V142.87M1033.7 96.4V141.72M1038.2 94.43V117.5M1036.8 101.25V147.95M1041.8 85.75V100.39M1043.2 103.39V149.95M1046.7 94.5V144.67M1045.3 97.65V135.35M1051.2 85.43V138.48M1049.8 97.91V145.44M1055.7 91.05V140.99M1054.3 97.86V141.04M1058.7 94.18V115.93M1057.3 97.32V123.59M1061.7 86.82V148.58M1060.3 93.33V149.82M1065.7 91.85V100.58M1064.3 98.84V98.32M1069.8 91.99V145.31M1071.2 102.25V130.07M1073.3 91.23V132.68M1074.7 103.07V137.66M1076.8 88.75V103.23M1078.2 106.69V98.7" stroke-width="2.08" stroke-linecap="round"/>
<path d="M153 85.73V258.25M158 85.11V248.5M162.5 87.54V252M167 89.74V301.5M172 84.07V254M176 84.84V224M180.5 85.16V301.5M186 86.67V239.5M190.5 84.97V247.5M194 88.51V255.5M198 83.79V299M203.5 86.19V234.5M208 84.94V322M212.2 86.31V359.5M216 85.99V298.5M221 86.94V248.5M225 85.69V320.5M229.5 87.49V322M234 84.87V279.5M238 90.42V280.5M242.5 85.91V320.5M247 81.3V247M252 84.84V254.5M257 90.64V284M261 87.36V224.5M265 85.1V336.5M269.5 89.23V233M274 90.71V235.5M279 86.92V225.5M283 88.25V219M286 89.31V223.5M292 88.75V296.5M296 88.23V248.5M301 88.92V235.5M305 85.1V289.5M309 90.03V269.5M314 87.13V285.5M317 87.94V280.5M322 84.1V308.5M327.5 83.51V269.5M331 88.5V284M335.5 90.26V242M340 83.84V275.5M344 90.35V229.5M349 90.44V267M353 90.76V249.5M357.5 87.46V287.5M362 84.15V264.5M366 89.14V251.5M371 86.34V270.5M375 84.49V320M379.5 83.8V288.5M384 85.96V249.5M389 90.29V240.5M393 83.44V301.5M397.5 85.14V280M401 85.61V215.5M404 86.34V244.5M407.5 84.53V254.5M412 85.5V259M416 90.69V295.5M421 86.16V244.5M425 84.38V253.5M429 87.27V250.5M434 87.94V285.5M436 87.08V284.5M441 88.5V254.5M446 84.69V303.5M452.5 89.28V319.5M457 83.86V299.5M461 83.88V280.5M465.5 84.41V248.5M469.5 90.59V241.5M474 86.8V229.5M478 83.87V237.5M482.5 83.86V254.5M487.5 89.95V243.5M491.5 90.42V295.5M496 87.6V234.5M500 90.06V322M501.5 90.24V427M505.5 84.42V314.5M510 89.93V213.5M514.5 83.67V297.5M517 90.14V257M522.5 90.62V282M526 84.51V277.5M529.5 86.51V337M534 85.24V277.5M537.5 86.13V265.5M541 87.27V214.5M544 86.54V352M546 90.56V290.5M549.5 90.59V217.5M552.5 89.49V386.5M557.5 85.57V321.5M561 89.03V272.5M565 85.81V253.5M569.5 85.12V285.5M574 84.76V238.5M579 87V211.5M584 87.64V238.5M589 84.96V290M594 86.94V255.5M598 90.61V282.5M602 85.66V324M605.5 86.9V277M609 83.89V323.5M612.5 85.97V320.5M616 86.65V302M619.5 81.6V214.5M622.5 87.84V262M627 85.67V336.5M630.5 83.79V263.5M635 85.18V354M640.5 85.57V211.5M644 87.17V248.5M649 86.91V232M654.5 83.93V281.5M659 86.76V220.5M662.5 89.61V262M666 85.14V285.5M670.5 85.04V293.5M675 89.6V247M679.5 89.51V261.5M683 89.13V209.5M686 83.85V216.5M690.5 89.44V252M694 85.41V274.5M696 88.2V333.5M699.5 85.64V213.5M703 88.13V261.5M708 89.45V272M712 88.11V345.5M716.5 85.91V213.5M721 90.55V268.5M724 87.86V268.5M727.5 89.19V215.5M731 83.61V294M736 88.03V280.5M739 89.67V265.5M744 87.08V281.5M747.5 89.15V257M752.5 86.04V222M756 86.7V253.5M761 87.91V240.5M766 90.17V261.5M771 90.02V206.5M777 85.27V302.5M781 85.39V274.5M786 88.07V237M790 79.3V313.5M794.5 84.4V329.5M797.5 89.45V239.5M802 87.99V237M806 81.47V263.5M809 85.56V295.5M814 85.13V239.5M817.5 89.39V258.5M822 86.63V250.5M825 86.34V275.5M829.5 84.78V224.5M833 83.66V302M837 86.79V264.5M840.5 84.22V250.5M844.5 89.21V253.5M848 87.11V265.5M852 84.74V235.5M857 89.61V274.5M861 88.73V231.5M865.5 82.59V266.5M869.5 81.52V256.5M875 86.03V250M879 85.15V242M884 89.49V283.5M887 85.51V277M891 86.06V302M895 86.57V327M896.75 89.51V426.5M899 88.63V297M901 87.74V258.5M906.2 85.04V257.5M909 85.75V211.5M912 86.09V248.5M916 85.05V243.5M920.5 88.27V280.5M924.5 85.81V310.5M929.5 87.93V312M933 90.47V213.5M936 84.41V260M939.75 84.85V359M944.3 90.66V235.5M950 90.11V279.5M954.25 88.11V351.5M958 88.01V302.5M962.5 89.67V285.5M966 84.67V252.5M970 87.38V289M973 88.68V311.5M976 88.43V213.5M979 84.16V278.5M984 85.29V231.5M987.5 86.24V240.5M990.75 88.12V332M994 86.81V319.5M999 88.58V261.5M1004.5 85.98V255.5M1008 86.02V290M1012.5 84.35V267.5M1015.75 87.86V321.5M1019.5 86.32V259.5M1024 84.78V288.5M1028.25 85.28V320.5M1033 88.55V262M1037.5 86.81V348.5M1042.5 83.87V206.5M1046 89.36V293.5M1050.5 81.3V314.5M1055 85.43V253.5M1058 86.33V213.5M1061 84.18V283.5M1065 86.29V285.5M1070.5 84.72V249.5M1074 88V239.5M1077.5 84.06V255.5" stroke-width="2.6" stroke-linecap="round"/>
</g>
<g fill="#000000">
<rect x="150" y="60" width="1" height="386"/>
<rect x="1080" y="60" width="1" height="386"/>
<rect x="150" y="60" width="931" height="1"/>
<rect x="150" y="445" width="931" height="1"/>
<rect x="276" y="446" width="1" height="4.5"/>
<rect x="402" y="446" width="1" height="4.5"/>
<rect x="528" y="446" width="1" height="4.5"/>
<rect x="654" y="446" width="1" height="4.5"/>
<rect x="780" y="446" width="1" height="4.5"/>
<rect x="906" y="446" width="1" height="4.5"/>
<rect x="1032" y="446" width="1" height="4.5"/>
<rect x="145.2" y="90" width="4.8" height="1"/>
<rect x="145.2" y="163" width="4.8" height="1"/>
<rect x="145.2" y="235" width="4.8" height="1"/>
<rect x="145.2" y="308" width="4.8" height="1"/>
<rect x="145.2" y="380" width="4.8" height="1"/>
</g>
<g font-size="13.89px">
<text x="275.5" y="466" text-anchor="middle">1000</text>
<text x="401.5" y="466" text-anchor="middle">2000</text>
<text x="527.5" y="466" text-anchor="middle">3000</text>
<text x="653.5" y="466" text-anchor="middle">4000</text>
<text x="779.5" y="466" text-anchor="middle">5000</text>
<text x="905.5" y="466" text-anchor="middle">6000</text>
<text x="1031.5" y="466" text-anchor="middle">7000</text>
<text x="140.3" y="94.8" text-anchor="end">7</text>
<text x="140.3" y="167.8" text-anchor="end">6</text>
<text x="140.3" y="239.8" text-anchor="end">5</text>
<text x="140.3" y="312.8" text-anchor="end">4</text>
<text x="140.3" y="384.8" text-anchor="end">3</text>
<text x="615.1" y="485.5" text-anchor="middle">Time(s)</text>
<text transform="translate(122.8 255.4) rotate(-90)" text-anchor="middle">normalized</text>
</g>
<text x="615.5" y="52" font-size="16.67px" text-anchor="middle">rsp_normalized: Amp. saturated trend-removed resp. signal normalized</text>
</svg>
</body>
</html>
